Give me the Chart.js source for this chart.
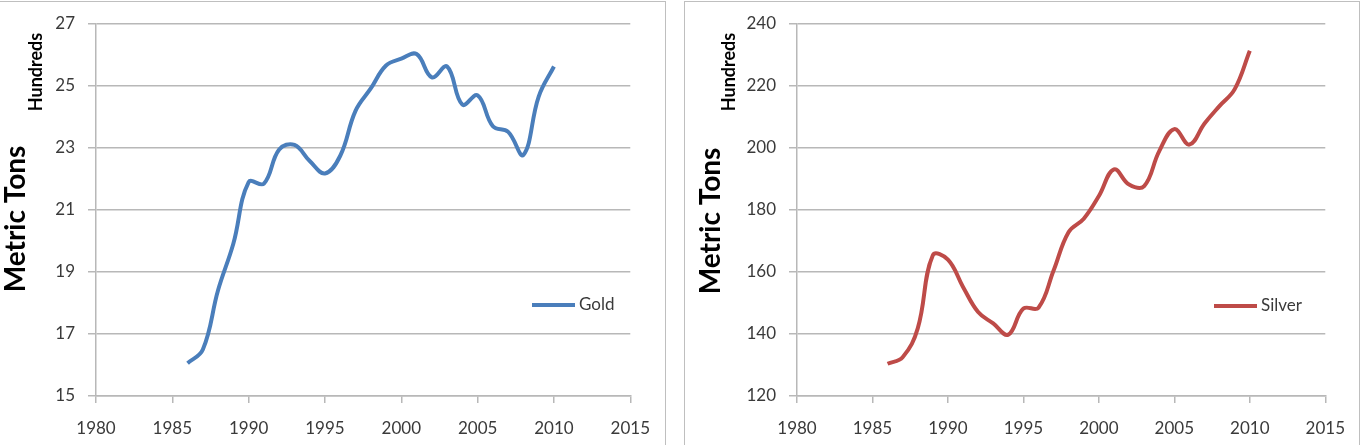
<!DOCTYPE html>
<html lang="en">
<head>
    <meta charset="UTF-8">
    <title>Gold and Silver Production</title>
    <script src="https://cdn.jsdelivr.net/npm/chart.js"></script>
    <style>
        body {
            margin: 0;
            background: white;
        }
        .page {
            position: relative;
            width: 1366px;
            height: 445px;
            overflow: hidden;
            background: white;
        }
        .box {
            position: absolute;
            top: 1px;
            height: 460px;
            border: 1.5px solid #bfbfbf;
            box-sizing: border-box;
        }
        canvas {
            position: absolute;
            top: 0;
        }
    </style>
</head>
<body>
    <div class="page">
        <div class="box" style="left: -10px; width: 676px;"></div>
        <div class="box" style="left: 684px; width: 676px;"></div>
        <canvas id="goldChart" width="665" height="445" style="left: 0;"></canvas>
        <canvas id="silverChart" width="675" height="445" style="left: 685px;"></canvas>
    </div>

    <script>
        // data (hundreds of metric tons)
        const years = [1986, 1987, 1988, 1989, 1990, 1991, 1992, 1993, 1994, 1995, 1996, 1997, 1998,
                       1999, 2000, 2001, 2002, 2003, 2004, 2005, 2006, 2007, 2008, 2009, 2010];
        const goldValues = [16.06, 16.5, 18.42, 19.92, 21.9, 21.85, 22.95, 23.1, 22.58, 22.18, 22.75, 24.2, 24.92,
                            25.66, 25.88, 26.03, 25.28, 25.63, 24.4, 24.7, 23.7, 23.52, 22.78, 24.66, 25.63];
        const silverValues = [130.4, 132.5, 141.8, 165.4, 164, 155.2, 147.1, 143.4, 139.8, 148.2, 148.5, 160.5, 172.9,
                              177.2, 184.5, 193.1, 188.2, 187.7, 199, 206.1, 201.1, 207.9, 213.6, 219, 231.4];
        const xRange = [1980, 2015, 5];
        const goldRange = [15, 27, 2];
        const silverRange = [120, 240, 20];

        const fontFamily = 'Lato, "Open Sans", sans-serif';
        const gridColor = '#b8b8b8';
        const textColor = '#3a3a3a';

        // axis titles and the little legend, drawn where Excel puts them
        const sideLabels = {
            id: 'sideLabels',
            afterDraw(chart, args, opts) {
                const ctx = chart.ctx;
                ctx.save();
                ctx.fillStyle = '#000';
                ctx.textAlign = 'center';
                ctx.textBaseline = 'middle';

                ctx.save();
                ctx.translate(opts.titleX, opts.titleY);
                ctx.rotate(-Math.PI / 2);
                ctx.font = 'bold 28px ' + fontFamily;
                ctx.fillText('Metric Tons', 0, 0);
                ctx.restore();

                ctx.save();
                ctx.translate(opts.unitX, opts.unitY);
                ctx.rotate(-Math.PI / 2);
                ctx.font = 'bold 18px ' + fontFamily;
                ctx.fillText('Hundreds', 0, 0);
                ctx.restore();

                const ds = chart.data.datasets[0];
                ctx.strokeStyle = ds.borderColor;
                ctx.lineWidth = 4;
                ctx.beginPath();
                ctx.moveTo(opts.legendX, opts.legendY);
                ctx.lineTo(opts.legendX + 43, opts.legendY);
                ctx.stroke();
                ctx.fillStyle = textColor;
                ctx.textAlign = 'left';
                ctx.font = '17px ' + fontFamily;
                ctx.fillText(ds.label, opts.legendX + 47, opts.legendY);
                ctx.restore();
            }
        };

        function makeChart(canvasId, label, values, range, color, pad, axisWidth, labelPos) {
            const points = years.map((yr, i) => ({ x: yr, y: values[i] }));
            return new Chart(document.getElementById(canvasId), {
                type: 'line',
                data: {
                    datasets: [{
                        label: label,
                        data: points,
                        borderColor: color,
                        borderWidth: 4,
                        pointRadius: 0,
                        tension: 0.4,
                        fill: false
                    }]
                },
                options: {
                    responsive: false,
                    animation: false,
                    layout: { padding: pad },
                    plugins: {
                        legend: { display: false },
                        tooltip: { enabled: false },
                        sideLabels: labelPos
                    },
                    scales: {
                        x: {
                            type: 'linear',
                            min: xRange[0],
                            max: xRange[1],
                            afterFit: s => { s.height = 49; },
                            ticks: {
                                stepSize: xRange[2],
                                padding: 15,
                                color: textColor,
                                font: { family: fontFamily, size: 17 },
                                callback: v => String(v),
                                maxRotation: 0
                            },
                            grid: {
                                drawOnChartArea: false,
                                drawTicks: true,
                                tickLength: 7,
                                color: gridColor,
                                lineWidth: 1.5
                            },
                            border: { color: gridColor, width: 1.5 }
                        },
                        y: {
                            min: range[0],
                            max: range[1],
                            afterFit: s => { s.width = axisWidth; },
                            ticks: {
                                stepSize: range[2],
                                padding: 13,
                                color: textColor,
                                font: { family: fontFamily, size: 17 }
                            },
                            grid: {
                                color: gridColor,
                                lineWidth: 1.5,
                                tickLength: 8
                            },
                            border: { color: gridColor, width: 1.5 }
                        }
                    }
                },
                plugins: [sideLabels]
            });
        }

        makeChart('goldChart', 'Gold', goldValues, goldRange, '#4a7ebb',
            { left: 44, right: 33, top: 24, bottom: 0 }, 52,
            { titleX: 16, titleY: 219, unitX: 36, unitY: 72, legendX: 532, legendY: 305 });

        makeChart('silverChart', 'Silver', silverValues, silverRange, '#be4b48',
            { left: 48, right: 31, top: 24, bottom: 0 }, 64,
            { titleX: 26, titleY: 221, unitX: 44, unitY: 72, legendX: 529, legendY: 306 });
    </script>
</body>
</html>
